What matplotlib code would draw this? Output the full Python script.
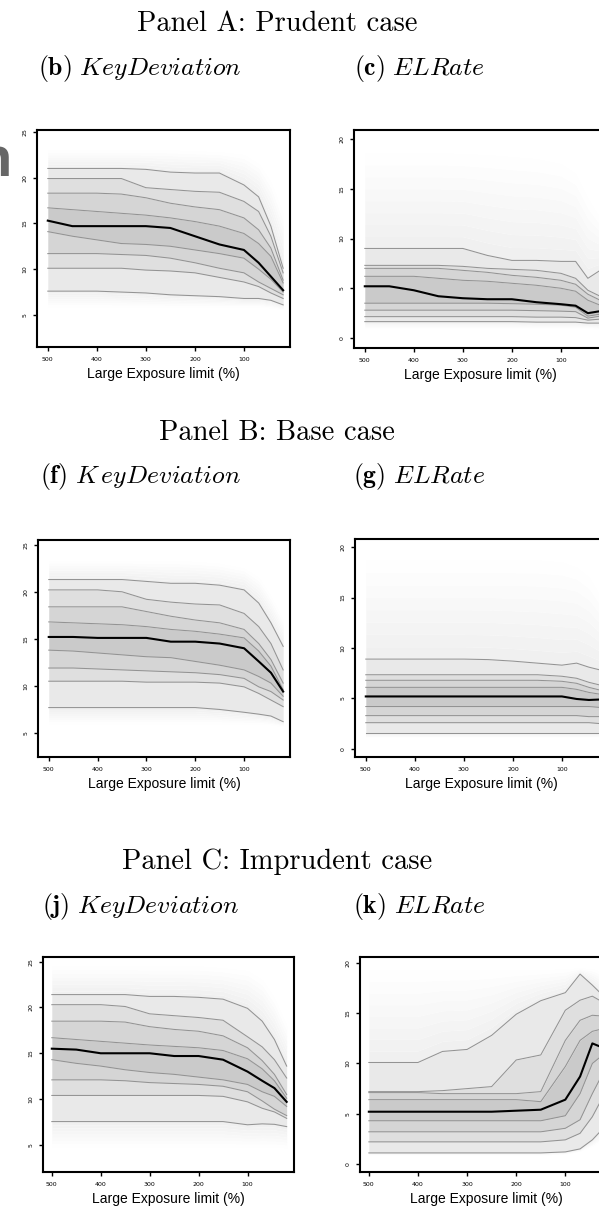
import numpy as np
import matplotlib.pyplot as plt

plt.rcParams['mathtext.fontset'] = 'cm'

W, H = 599, 1206

# large exposure limit (%) grid used for every fan
limit = [500, 450, 400, 350, 300, 250, 200, 150, 100, 70, 45, 20]

# rows: lower edge, 1, 5, 10, 25, 50, 75, 90, 95, 99th pct, upper edge
prudent_keydev = [
    [5.9, 5.9, 5.9, 5.9, 5.9, 5.9, 5.9, 5.9, 5.9, 5.9, 5.8, 5.6],
    [7.6, 7.6, 7.6, 7.5, 7.4, 7.2, 7.1, 7.0, 6.8, 6.8, 6.6, 6.1],
    [10.1, 10.1, 10.1, 10.1, 9.9, 9.8, 9.6, 9.1, 8.6, 8.1, 7.4, 6.8],
    [11.7, 11.7, 11.7, 11.6, 11.5, 11.2, 10.7, 10.1, 9.6, 8.6, 7.9, 7.2],
    [14.1, 13.6, 13.2, 12.8, 12.7, 12.5, 12.1, 11.7, 11.2, 10.0, 8.9, 7.5],
    [15.3, 14.7, 14.7, 14.7, 14.7, 14.5, 13.6, 12.7, 12.1, 10.7, 9.2, 7.7],
    [16.7, 16.5, 16.3, 16.1, 15.9, 15.6, 15.2, 14.7, 13.9, 12.8, 11.4, 8.5],
    [18.3, 18.3, 18.3, 18.2, 17.8, 17.2, 16.8, 16.5, 15.6, 14.3, 12.3, 8.8],
    [19.9, 19.9, 19.9, 19.9, 18.9, 18.7, 18.5, 18.4, 17.4, 16.3, 13.6, 9.6],
    [21.0, 21.0, 21.0, 21.0, 20.9, 20.6, 20.5, 20.5, 19.2, 17.9, 14.7, 10.1],
    [23.0, 23.0, 23.0, 23.0, 23.0, 23.0, 22.9, 22.8, 22.5, 21.5, 19.5, 16.0],
]
prudent_elrate = [
    [1.0, 1.0, 1.0, 1.0, 1.0, 1.0, 1.0, 1.0, 1.0, 1.0, 1.0, 0.9],
    [1.65, 1.65, 1.65, 1.65, 1.65, 1.65, 1.65, 1.6, 1.6, 1.6, 1.5, 1.5],
    [2.15, 2.15, 2.15, 2.15, 2.15, 2.15, 2.15, 2.1, 2.1, 2.05, 1.8, 1.9],
    [2.8, 2.8, 2.8, 2.8, 2.8, 2.8, 2.8, 2.75, 2.7, 2.65, 2.0, 2.2],
    [3.5, 3.5, 3.5, 3.5, 3.5, 3.5, 3.45, 3.4, 3.3, 3.1, 2.2, 2.4],
    [5.2, 5.2, 4.8, 4.2, 4.0, 3.9, 3.9, 3.6, 3.4, 3.25, 2.5, 2.7],
    [6.2, 6.2, 6.2, 6.0, 5.8, 5.7, 5.5, 5.3, 5.0, 4.7, 3.8, 3.3],
    [7.0, 7.0, 7.0, 7.0, 6.8, 6.6, 6.3, 6.1, 5.8, 5.4, 4.4, 3.8],
    [7.3, 7.3, 7.3, 7.3, 7.2, 7.0, 6.9, 6.8, 6.5, 6.0, 4.8, 4.2],
    [9.0, 9.0, 9.0, 9.0, 9.0, 8.3, 7.8, 7.8, 7.7, 7.7, 6.0, 6.8],
    [18.6, 18.6, 18.6, 18.6, 18.5, 18.4, 18.2, 18.0, 17.5, 16.5, 14.0, 12.0],
]
base_keydev = [
    [6.0, 6.0, 6.0, 6.0, 6.0, 6.0, 6.0, 6.0, 6.0, 6.0, 5.9, 5.7],
    [7.7, 7.7, 7.7, 7.7, 7.7, 7.7, 7.7, 7.5, 7.2, 7.0, 6.8, 6.2],
    [10.5, 10.5, 10.5, 10.5, 10.4, 10.4, 10.4, 10.3, 9.9, 9.2, 8.5, 7.8],
    [11.9, 11.9, 11.8, 11.7, 11.6, 11.5, 11.4, 11.2, 10.8, 9.9, 9.4, 8.5],
    [13.8, 13.7, 13.5, 13.3, 13.1, 13.0, 12.6, 12.2, 11.7, 11.0, 10.3, 8.9],
    [15.2, 15.2, 15.1, 15.1, 15.1, 14.7, 14.7, 14.5, 14.0, 12.6, 11.4, 9.4],
    [16.8, 16.7, 16.6, 16.5, 16.3, 16.0, 15.8, 15.5, 15.1, 13.7, 12.1, 9.6],
    [18.4, 18.4, 18.4, 18.4, 17.9, 17.4, 17.0, 16.7, 16.0, 14.5, 12.8, 10.3],
    [20.2, 20.2, 20.2, 20.0, 19.2, 18.9, 18.7, 18.6, 17.7, 16.3, 14.5, 11.7],
    [21.3, 21.3, 21.3, 21.3, 21.1, 20.9, 20.9, 20.7, 20.2, 18.8, 16.7, 14.2],
    [23.3, 23.3, 23.3, 23.3, 23.3, 23.3, 23.2, 23.0, 22.5, 21.5, 19.5, 17.0],
]
base_elrate = [
    [1.1, 1.1, 1.1, 1.1, 1.1, 1.1, 1.1, 1.1, 1.1, 1.1, 1.1, 1.1],
    [1.6, 1.6, 1.6, 1.6, 1.6, 1.6, 1.6, 1.6, 1.6, 1.6, 1.6, 1.6],
    [2.6, 2.6, 2.6, 2.6, 2.6, 2.6, 2.6, 2.6, 2.6, 2.6, 2.6, 2.5],
    [3.3, 3.3, 3.3, 3.3, 3.3, 3.3, 3.3, 3.3, 3.3, 3.3, 3.2, 3.2],
    [4.2, 4.2, 4.2, 4.2, 4.2, 4.2, 4.2, 4.2, 4.2, 4.2, 4.2, 4.1],
    [5.2, 5.2, 5.2, 5.2, 5.2, 5.2, 5.2, 5.2, 5.2, 4.95, 4.85, 4.9],
    [6.1, 6.1, 6.1, 6.1, 6.1, 6.1, 6.1, 6.1, 6.1, 5.9, 5.6, 5.4],
    [6.8, 6.8, 6.8, 6.8, 6.8, 6.8, 6.8, 6.8, 6.7, 6.5, 6.1, 5.8],
    [7.35, 7.35, 7.35, 7.35, 7.35, 7.35, 7.35, 7.35, 7.2, 7.0, 6.6, 6.3],
    [8.9, 8.9, 8.9, 8.9, 8.9, 8.85, 8.7, 8.5, 8.3, 8.5, 8.1, 7.8],
    [18.7, 18.7, 18.7, 18.7, 18.7, 18.7, 18.7, 18.7, 18.5, 18.0, 17.0, 15.0],
]
imprudent_keydev = [
    [4.8, 4.8, 4.8, 4.8, 4.8, 4.8, 4.8, 4.8, 4.8, 4.8, 4.8, 4.7],
    [7.55, 7.55, 7.55, 7.55, 7.55, 7.55, 7.55, 7.55, 7.2, 7.3, 7.25, 7.0],
    [10.4, 10.4, 10.4, 10.4, 10.4, 10.4, 10.4, 10.3, 9.7, 9.0, 8.6, 7.9],
    [12.1, 12.1, 12.1, 12.0, 11.8, 11.7, 11.6, 11.4, 10.8, 9.8, 8.9, 8.2],
    [14.3, 13.9, 13.6, 13.2, 12.9, 12.7, 12.4, 12.1, 11.6, 10.8, 10.3, 9.2],
    [15.5, 15.4, 15.0, 15.0, 15.0, 14.7, 14.7, 14.3, 13.0, 12.0, 11.2, 9.7],
    [16.7, 16.5, 16.3, 16.1, 15.9, 15.75, 15.6, 15.3, 14.4, 13.3, 12.0, 10.1],
    [18.5, 18.5, 18.5, 18.4, 17.9, 17.6, 17.4, 16.9, 15.6, 14.2, 12.7, 10.5],
    [20.3, 20.3, 20.3, 20.1, 19.3, 19.1, 18.9, 18.6, 16.8, 15.7, 14.3, 12.3],
    [21.4, 21.4, 21.4, 21.4, 21.2, 21.2, 21.1, 20.9, 19.9, 18.5, 16.5, 13.6],
    [24.5, 24.5, 24.5, 24.5, 24.5, 24.5, 24.5, 24.3, 24.0, 23.0, 21.0, 18.0],
]
imprudent_elrate = [
    [0.9, 0.9, 0.9, 0.9, 0.9, 0.9, 0.9, 0.9, 1.0, 1.3, 1.8, 2.5],
    [1.1, 1.1, 1.1, 1.1, 1.1, 1.1, 1.1, 1.1, 1.2, 1.5, 2.4, 3.7],
    [2.2, 2.2, 2.2, 2.2, 2.2, 2.2, 2.2, 2.2, 2.4, 3.05, 4.7, 7.0],
    [3.2, 3.2, 3.2, 3.2, 3.2, 3.2, 3.2, 3.2, 3.55, 4.4, 7.0, 9.35],
    [4.3, 4.3, 4.3, 4.3, 4.3, 4.3, 4.3, 4.3, 4.8, 7.0, 10.0, 11.0],
    [5.2, 5.2, 5.2, 5.2, 5.2, 5.2, 5.3, 5.4, 6.4, 8.7, 12.0, 11.5],
    [6.4, 6.4, 6.4, 6.4, 6.4, 6.4, 6.4, 6.2, 9.7, 12.3, 13.2, 13.5],
    [7.1, 7.1, 7.1, 7.0, 7.0, 7.0, 7.0, 7.2, 12.3, 14.3, 14.8, 14.7],
    [7.2, 7.2, 7.2, 7.3, 7.5, 7.7, 10.35, 10.85, 15.3, 16.3, 16.7, 16.0],
    [10.1, 10.1, 10.1, 11.2, 11.4, 12.8, 14.9, 16.25, 17.05, 18.9, 17.8, 16.6],
    [19.3, 19.3, 19.3, 19.3, 19.3, 19.3, 19.3, 19.3, 19.4, 19.5, 19.4, 19.0],
]

keydev_ticks = [5, 10, 15, 20, 25]
elrate_ticks = [0, 5, 10, 15, 20]

# inner bands of the fan, from the 1st/5th pct band up to the 25th/50th
band_grays = ['#e9e9e9', '#dfdfdf', '#d5d5d5', '#cacaca',
              '#cacaca', '#d5d5d5', '#dfdfdf', '#e9e9e9']

fig = plt.figure(figsize=(W / 100, H / 100), dpi=100)


def px_axes(x0, y0, x1, y1):
    return fig.add_axes([x0 / W, 1 - y1 / H, (x1 - x0) / W, (y1 - y0) / H])


def soft_edge(ax, inner, outer, n=8):
    # outermost band drawn as a fading stack so its edge looks soft
    inner = np.asarray(inner)
    outer = np.asarray(outer)
    for k in range(n):
        a = inner + (outer - inner) * k / n
        b = inner + (outer - inner) * (k + 1) / n
        g = 0.935 + 0.06 * (k + 1) / n
        ax.fill_between(limit, a, b, color=(g, g, g), lw=0)


def fan(ax, rows, yticks, ylim, xlim=(522, 6)):
    soft_edge(ax, rows[1], rows[0])
    soft_edge(ax, rows[9], rows[10])
    for i in range(1, len(rows) - 2):
        ax.fill_between(limit, rows[i], rows[i + 1], color=band_grays[i - 1], lw=0)
    for i in range(1, len(rows) - 1):
        if i == 5:
            ax.plot(limit, rows[i], color='black', lw=1.5, zorder=4)
        else:
            ax.plot(limit, rows[i], color='#939393', lw=0.75, zorder=3)
    ax.set_xlim(*xlim)
    ax.set_ylim(*ylim)
    ax.set_xticks([500, 400, 300, 200, 100])
    ax.set_xticklabels(['500', '400', '300', '200', '100'], fontsize=4.5)
    ax.set_yticks(yticks)
    ax.set_yticklabels([str(t) for t in yticks], fontsize=4.5,
                       rotation=90, va='center')
    ax.tick_params(length=3, width=1, pad=4)
    for s in ax.spines.values():
        s.set_linewidth(1.5)
    ax.set_xlabel('Large Exposure limit (%)', fontsize=10,
                  family='Liberation Sans', labelpad=4)


fan(px_axes(37, 130, 290, 347), prudent_keydev, keydev_ticks, (1.5, 25.2))
fan(px_axes(354, 130, 607, 348), prudent_elrate, elrate_ticks, (-1.0, 20.9))
fan(px_axes(38, 540, 290, 757), base_keydev, keydev_ticks, (2.45, 25.5))
fan(px_axes(355, 539, 608, 757), base_elrate, elrate_ticks, (-0.8, 20.8))
fan(px_axes(43, 957, 294, 1172), imprudent_keydev, keydev_ticks, (2.05, 25.5),
    xlim=(518, 5))
fan(px_axes(360, 957, 612, 1172), imprudent_elrate, elrate_ticks, (-0.8, 20.6),
    xlim=(518, 5))


def ftext(x, y, s, **kw):
    fig.text(x / W, 1 - y / H, s, ha='center', va='center', **kw)


titles = ['Panel A: Prudent case', 'Panel B: Base case', 'Panel C: Imprudent case']
title_y = [24, 433, 862]
left_sub = [r'$\mathbf{(b)}\ KeyDeviation$', r'$\mathbf{(f)}\ K\,eyDeviation$',
            r'$\mathbf{(j)}\ KeyDeviation$']
right_sub = [r'$\mathbf{(c)}\ ELRate$', r'$\mathbf{(g)}\ ELRate$',
             r'$\mathbf{(k)}\ ELRate$']

for i in range(3):
    ftext(277, title_y[i], titles[i], fontsize=20.5, family='cmr10')
    ftext(140, title_y[i] + 44, left_sub[i], fontsize=18.5)
    ftext(419, title_y[i] + 44, right_sub[i], fontsize=18.5)

fig.text(13 / W, 1 - 162 / H, 'n', ha='right', va='center', fontsize=38,
         fontweight='bold', color='#666666', family='Open Sans')

fig.savefig('out.png', dpi=100)
